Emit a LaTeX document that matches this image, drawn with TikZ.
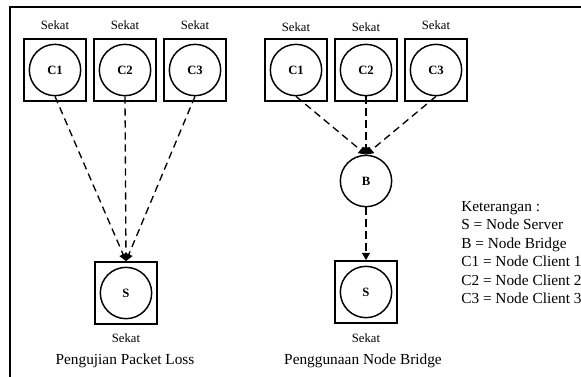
\documentclass[tikz,border=0pt]{standalone}
\usepackage{fontspec}
\setmainfont{Liberation Serif}
\usetikzlibrary{arrows.meta}
\begin{document}
\begin{tikzpicture}[x=0.75pt,y=-0.75pt,
  box/.style={draw, line width=1.35pt, minimum size=46.5pt, inner sep=0pt},
  host/.style={draw, circle, line width=1.1pt, minimum size=38.5pt, inner sep=0pt, font=\bfseries\fontsize{9.5}{11}\selectfont},
  sekat/.style={font=\fontsize{9.5}{11}\selectfont, inner sep=0pt, anchor=base},
  capt/.style={font=\fontsize{11.5}{13}\selectfont, inner sep=0pt, anchor=base},
  legend/.style={font=\fontsize{11.5}{13}\selectfont, inner sep=0pt, anchor=base west},
  link/.style={line width=1pt, dash pattern=on 5.5pt off 3.5pt, -{Triangle[length=5.5pt,width=6pt]}}]
\useasboundingbox (0,0) rectangle (581,376);
\clip (0,0) rectangle (581,376);
\draw[line width=1.3pt] (10,7) rectangle (700,500);

% left group
\node[box] (lb1) at (55,70) {};
\node[box] (lb2) at (125,70) {};
\node[box] (lb3) at (195,70) {};
\node[host] (lc1) at (55,70) {C1};
\node[host] (lc2) at (125,70) {C2};
\node[host] (lc3) at (195,70) {C3};
\node[sekat] (lk1) at (55,29.5) {Sekat};
\node[sekat] (lk2) at (125,29) {Sekat};
\node[sekat] (lk3) at (195,29) {Sekat};
\node[box] (lsb) at (126,293) {};
\node[host] (ls) at (126,293) {S};
\node[sekat] (lk4) at (126,342.5) {Sekat};
\node[capt] (lcap) at (125,364) {Pengujian Packet Loss};
\draw[link] (lc1.south) -- (lsb.north);
\draw[link] (lc2.south) -- (lsb.north);
\draw[link] (lc3.south) -- (lsb.north);

% right group
\node[box] (rb1) at (296,70) {};
\node[box] (rb2) at (366,70) {};
\node[box] (rb3) at (436,70) {};
\node[host] (rc1) at (296,70) {C1};
\node[host] (rc2) at (366,70) {C2};
\node[host] (rc3) at (436,70) {C3};
\node[sekat] (rk1) at (296,31) {Sekat};
\node[sekat] (rk2) at (366,31) {Sekat};
\node[sekat] (rk3) at (436,29.5) {Sekat};
\node[host] (rbr) at (366,181) {B};
\node[box] (rsb) at (366,292) {};
\node[host] (rs) at (366,292) {S};
\node[sekat] (rk4) at (366,342.5) {Sekat};
\node[capt] (rcap) at (363,364) {Penggunaan Node Bridge};
\draw[link] (rc1.south) -- (rbr.north);
\draw[link] (rc2.south) -- (rbr.north);
\draw[link] (rc3.south) -- (rbr.north);
\draw[link] (rbr.south) -- (rsb.north);

% legend
\node[legend] (g1) at (461,211) {Keterangan :};
\node[legend] (g2) at (461,229.5) {S = Node Server};
\node[legend] (g3) at (461,248) {B = Node Bridge};
\node[legend] (g4) at (461,266.5) {C1 = Node Client 1};
\node[legend] (g5) at (461,285) {C2 = Node Client 2};
\node[legend] (g6) at (461,303.5) {C3 = Node Client 3};
\end{tikzpicture}
\end{document}
